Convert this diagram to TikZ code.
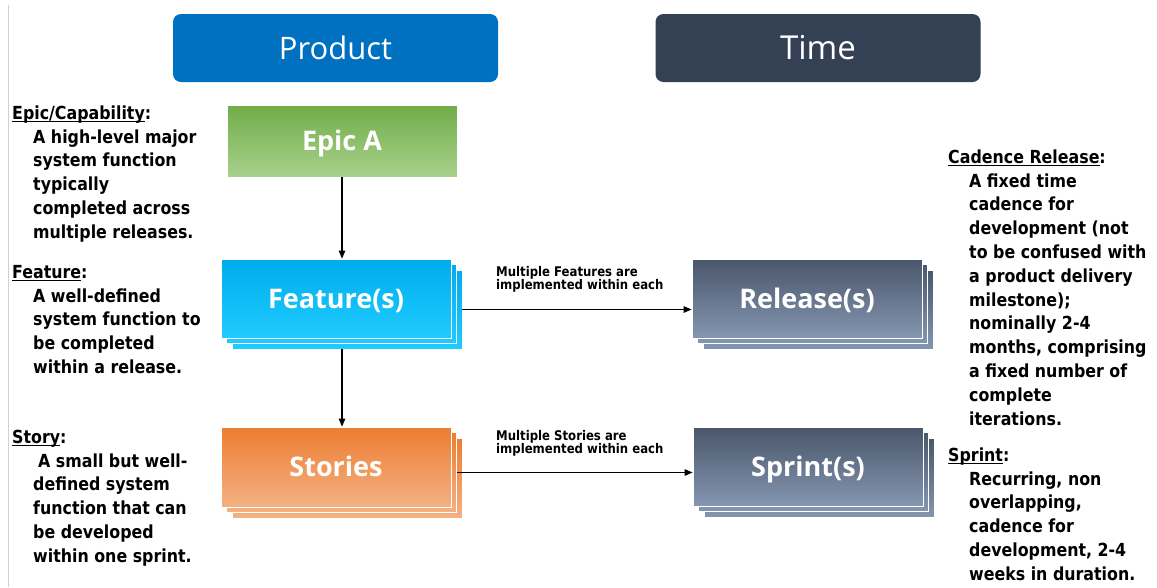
\documentclass[tikz,border=0pt]{standalone}
\usepackage{fontspec}
\usetikzlibrary{arrows.meta,calc}
\newfontfamily\bodyfont{DejaVu Sans}[FakeStretch=0.88]
\newfontfamily\boxfont{Open Sans}
\definecolor{prodblue}{HTML}{0070C0}
\definecolor{timeslate}{HTML}{344054}
\definecolor{epicTop}{HTML}{70AD47}
\definecolor{epicBot}{HTML}{A9D18E}
\definecolor{featTop}{HTML}{00ADEC}
\definecolor{featBot}{HTML}{1FCBFF}
\definecolor{storTop}{HTML}{ED7D31}
\definecolor{storBot}{HTML}{F4B183}
\definecolor{relTop}{HTML}{4A566B}
\definecolor{relBot}{HTML}{8496B0}
\definecolor{leftline}{HTML}{D0D0D0}
\newcommand\myul[1]{\setbox0\hbox{#1}\rlap{\rule[-3.2pt]{\wd0}{1.2pt}}\box0}
\begin{document}
\begin{tikzpicture}[x=1pt,y=-1pt,
  hdr/.style={rounded corners=8pt, minimum width=325pt, minimum height=68pt, inner sep=0,
    text=white, font=\boxfont\fontsize{31}{31}\selectfont},
  layer/.style={draw=white, line width=0.8pt, minimum width=230pt, minimum height=79pt, inner sep=0},
  lbl/.style={text=white, text height=19.3pt, text depth=0pt, font=\boxfont\bfseries\fontsize{27}{27}\selectfont},
  epicsh/.style={top color=epicTop, middle color=epicTop, bottom color=epicBot},
  featsh/.style={top color=featTop, bottom color=featBot},
  storsh/.style={top color=storTop, middle color=storTop, bottom color=storBot},
  relsh/.style={top color=relTop, bottom color=relBot},
  hd/.style={anchor=base west, inner sep=0, font=\bodyfont\bfseries\fontsize{18}{23.8}\selectfont},
  body/.style={hd, align=left},
  note/.style={anchor=base west, inner sep=0, align=left, font=\bodyfont\bfseries\fontsize{13.3}{13.5}\selectfont},
  arr/.style={line width=1.2pt, -{Triangle[length=8pt,width=6.5pt]}}
]
\useasboundingbox (0,0) rectangle (1157,587);
\fill[white] (0,0) rectangle (1157,587);
\draw[leftline, line width=1pt] (8,5) -- (8,587);

% headers
\node[hdr, fill=prodblue] (prod) at (335.5,48) {Product};
\node[hdr, fill=timeslate, font=\boxfont\fontsize{33}{33}\selectfont] (time) at (818,48) {Time};

% Epic
\node[layer, epicsh, minimum height=72pt, lbl] (E) at (342,141) {Epic A};

% Features stack
\node[layer, featsh] (F3) at (347,309.5) {};
\node[layer, featsh] (F2) at (341.5,304) {};
\node[layer, featsh, lbl] (F) at (336,298.5) {Feature(s)};

% Stories stack
\node[layer, storsh, minimum height=80pt] (S3) at (347,478) {};
\node[layer, storsh, minimum height=80pt] (S2) at (341.5,472.5) {};
\node[layer, storsh, minimum height=80pt, lbl] (S) at (336,467) {Stories};

% Releases stack
\node[layer, relsh] (R3) at (818,309.5) {};
\node[layer, relsh] (R2) at (812.5,304) {};
\node[layer, relsh, lbl] (R) at (807,298.5) {Release(s)};

% Sprints stack
\node[layer, relsh] (P3) at (819,477.5) {};
\node[layer, relsh] (P2) at (813.5,472) {};
\node[layer, relsh, lbl] (P) at (808,466.5) {Sprint(s)};

% connectors
\draw[arr] (E.south) -- (E.south |- F.north);
\draw[arr] (E.south |- F3.south) -- (E.south |- S.north);
\draw[arr] (F3.east) -- (F3.east -| R.west);
\draw[arr] (S2.east) -- (S2.east -| P.west);

% connector notes (anchored at the baseline of the last line)
\node[note] (n1) at (496,289.5) {Multiple Features are\\implemented within each};
\node[note] (n2) at (496,453.5) {Multiple Stories are\\implemented within each};

% left descriptions
\node[hd] (h1) at (12,119) {\myul{Epic/Capability}:};
\node[body] (b1) at (33,238.2) {A high-level major\\system function\\typically\\completed across\\multiple releases.};
\node[hd] (h2) at (12,278) {\myul{Feature}:};
\node[body] (b2) at (33,373.4) {A well-defined\\system function to\\be completed\\within a release.};
\node[hd] (h3) at (12,443) {\myul{Story}:};
\node[body] (b3) at (33,562.2) {\hspace{5pt}A small but well-\\defined system\\function that can\\be developed\\within one sprint.};

% right descriptions
\node[hd] (h4) at (948,163) {\myul{Cadence Release}:};
\node[body] (b4) at (969,425) {A fixed time\\cadence for\\development (not\\to be confused with\\a product delivery\\milestone);\\nominally 2-4\\months, comprising\\a fixed number of\\complete\\iterations.};
\node[hd] (h5) at (948,461) {\myul{Sprint}:};
\node[body] (b5) at (969,580.2) {Recurring, non\\overlapping,\\cadence for\\development, 2-4\\weeks in duration.};
\end{tikzpicture}
\end{document}
